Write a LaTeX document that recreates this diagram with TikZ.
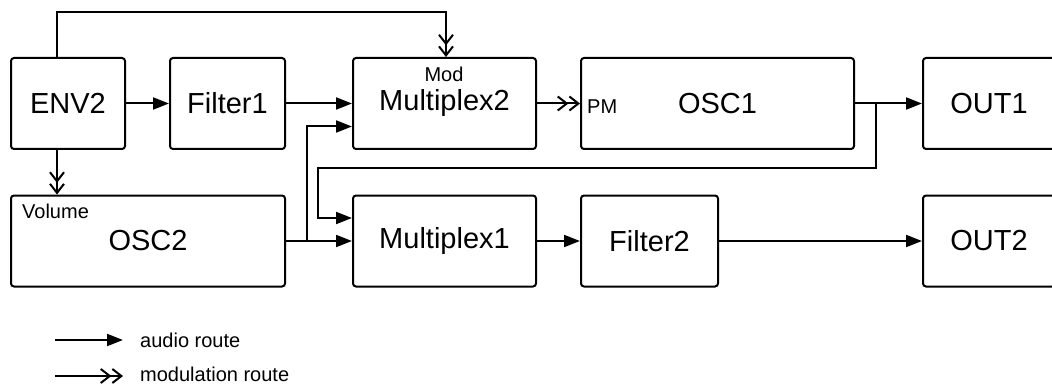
\documentclass[tikz,border=0pt]{standalone}
\usepackage{fontspec}
\setmainfont{Liberation Sans}
\usetikzlibrary{arrows.meta}
\begin{document}
\begin{tikzpicture}[x=1pt,y=-1pt,
  box/.style={draw, line width=2pt, rounded corners=3pt, minimum height=91pt, inner sep=0pt, font=\fontsize{29}{34}\selectfont},
  audio/.style={line width=2pt, -{Triangle[length=16pt,width=12pt]}},
  modr/.style={line width=2pt, -{Straight Barb[length=9pt,width=14pt]Straight Barb[length=9pt,width=14pt]}},
  small/.style={font=\fontsize{20}{24}\selectfont, inner sep=0pt}]
\useasboundingbox (0,0) rectangle (1052,385);
\clip (0,0) rectangle (1052,385);
% boxes
\node[box, minimum width=114pt] (env2) at (68,103.5) {ENV2};
\node[box, minimum width=115pt] (filter1) at (227.5,103.5) {Filter1};
\node[box, minimum width=183pt] (mux2) at (444.5,103.5) {Multiplex2};
\node[box, minimum width=273pt] (osc1) at (717.5,103.5) {OSC1};
\node[box, minimum width=132pt] (out1) at (989,103.5) {OUT1};
\node[box, minimum width=274pt] (osc2) at (148,241) {OSC2};
\node[box, minimum width=183pt] (mux1) at (444.5,241) {Multiplex1};
\node[box, minimum width=137pt] (filter2) at (649.5,241) {Filter2};
\node[box, minimum width=132pt] (out2) at (989,241) {OUT2};
% small labels
\node[small] (mod) at (444,74) {Mod};
\node[small, anchor=west] (pm) at (587,106.5) {PM};
\node[small, anchor=west] (vol) at (22,211.5) {Volume};
% connectors
\draw[modr] ([xshift=-11pt]env2.north) -- ++(0,-45) -| ([xshift=1.5pt]mux2.north);
\draw[audio] (env2.east) -- (filter1.west);
\draw[audio] (filter1.east) -- (mux2.west);
\draw[modr] (mux2.east) -- (osc1.west);
\draw[audio] (osc1.east) -- (out1.west);
\coordinate (j1) at (876,103.5);
\coordinate (k1) at (318,168);
\draw[audio] (j1) |- (k1) |- ([yshift=23pt]mux1.west);
\draw[audio] (osc2.east) -- (mux1.west);
\coordinate (j2) at (307,241);
\draw[audio] (j2) |- ([yshift=-23pt]mux2.west);
\draw[audio] (mux1.east) -- (filter2.west);
\draw[audio] (filter2.east) -- (out2.west);
\draw[modr] ([xshift=-11pt]env2.south) -- ([xshift=-11pt]env2.south |- osc2.north);
% legend
\coordinate (la) at (55,340);
\coordinate (lb) at (123,340);
\draw[audio] (la) -- (lb);
\node[small, anchor=west] (lt1) at (140,340) {audio route};
\coordinate (lc) at (55,376);
\coordinate (ld) at (123,376);
\draw[modr] (lc) -- (ld);
\node[small, anchor=west] (lt2) at (140,374.5) {modulation route};
\end{tikzpicture}
\end{document}
